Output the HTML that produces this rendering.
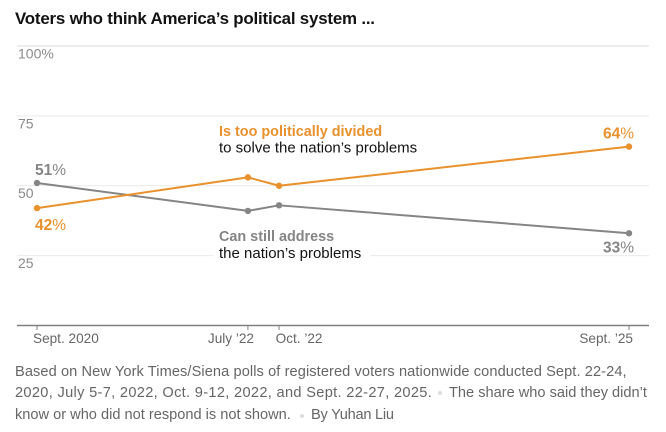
<!DOCTYPE html>
<html><head><meta charset="utf-8"><title>Voters who think America's political system</title>
<style>
html,body{margin:0;padding:0;background:#fff}
body{width:666px;height:432px;overflow:hidden;position:relative;font-family:"Liberation Sans",sans-serif}
#title{position:absolute;left:15px;top:9px;font-size:16.9px;font-weight:700;color:#121212;letter-spacing:-.2px;line-height:20px;white-space:nowrap}
#note span.seg{position:absolute;font-size:14.6px;line-height:21.7px;color:#666;white-space:nowrap}
#note span.dot{position:absolute;width:4px;height:4px;border-radius:50%;background:#ddd}
svg{position:absolute;left:0;top:0}
text{font-family:"Liberation Sans",sans-serif}
</style></head>
<body>
<div id="title">Voters who think America’s political system ...</div>
<svg id="chart" width="666" height="432" viewBox="0 0 666 432"></svg>
<div id="note">
<span class="seg" style="left:15px;top:362px;letter-spacing:.09px">Based on New York Times/Siena polls of registered voters nationwide conducted Sept. 22-24,</span>
<span class="seg" style="left:15px;top:382.5px;letter-spacing:.32px">2020, July 5-7, 2022, Oct. 9-12, 2022, and Sept. 22-27, 2025.</span>
<span class="dot" style="left:438px;top:391px"></span>
<span class="seg" style="left:449px;top:382.5px">The share who said they didn’t</span>
<span class="seg" style="left:15px;top:404.5px">know or who did not respond is not shown.</span>
<span class="dot" style="left:300px;top:413.5px"></span>
<span class="seg" style="left:311px;top:404.5px;letter-spacing:-.25px">By Yuhan Liu</span>
</div>
<script>
const pollDates = ['2020-09-23', '2022-07-06', '2022-10-10', '2025-09-24'];
const dateLabels = ['Sept. 2020', 'July ’22', 'Oct. ’22', 'Sept. ’25'];
const dividedValues = [42, 53, 50, 64];
const addressValues = [51, 41, 43, 33];
const yTicks = [100, 75, 50, 25];
const yTickLabels = ['100%', '75', '50', '25'];

const svg = document.getElementById('chart');
const NS = 'http://www.w3.org/2000/svg';
const ORANGE = '#e8912d', GRAY = '#858585';
const t0 = Date.parse(pollDates[0]), t1 = Date.parse(pollDates[pollDates.length - 1]);
function xScale(d) { return 37 + (Date.parse(d) - t0) / (t1 - t0) * 592; }
function yScale(v) { return 325.5 - v * 2.795; }
function make(tag, attrs, text) {
  const el = document.createElementNS(NS, tag);
  for (const k in attrs) el.setAttribute(k, attrs[k]);
  if (text !== undefined) el.textContent = text;
  svg.appendChild(el);
  return el;
}

yTicks.forEach(function (v, i) {
  const y = yScale(v);
  const grid = make('line', { x1: 17, x2: 649, y1: y, y2: y, stroke: '#e9e9e9', 'stroke-width': v === 100 ? 1.5 : 1 });
  
  
  const label = make('text', { x: 18, y: y + 12.4, 'font-size': 14, fill: '#8a8a8a' }, yTickLabels[i]);
  
  
});

const axis = make('line', { x1: 17, x2: 649, y1: yScale(0), y2: yScale(0), stroke: '#808080', 'stroke-width': 1.5 });



pollDates.forEach(function (d, i) {
  const x = xScale(d);
  const tick = make('line', { x1: x, x2: x, y1: yScale(0), y2: yScale(0) + 4.5, stroke: '#808080', 'stroke-width': 1 });
  
  
  const anchors = ['start', 'middle', 'middle', 'end'];
  const shifts = [-4, -17, 20, 4];
  const label = make('text', { x: x + shifts[i], y: 343, 'font-size': 13.6, fill: '#666', 'text-anchor': anchors[i] }, dateLabels[i]);
  
  
});

function drawSeries(values, color, name) {
  const pts = values.map(function (v, i) { return xScale(pollDates[i]) + ',' + yScale(v); }).join(' ');
  const line = make('polyline', { points: pts, fill: 'none', stroke: color, 'stroke-width': 2, 'stroke-linejoin': 'round' });
  
  
  values.forEach(function (v, i) {
    const dot = make('circle', { cx: xScale(pollDates[i]), cy: yScale(v), r: 3.2, fill: color });
    
    
  });
}
drawSeries(addressValues, GRAY, 'can-still-address');
drawSeries(dividedValues, ORANGE, 'too-divided');

function valueLabel(value, x, y, anchor, color, name) {
  const t = make('text', { x: x, y: y, 'font-size': 15.5, fill: color, 'text-anchor': anchor });
  
  
  const b = document.createElementNS(NS, 'tspan');
  b.setAttribute('font-weight', '700');
  b.textContent = value;
  t.appendChild(b);
  const p = document.createElementNS(NS, 'tspan');
  p.textContent = '%';
  t.appendChild(p);
}
const last = pollDates.length - 1;
valueLabel(addressValues[0], 35, yScale(addressValues[0]) - 8, 'start', GRAY, 'first-address-value');
valueLabel(dividedValues[0], 35, yScale(dividedValues[0]) + 22, 'start', ORANGE, 'first-divided-value');
valueLabel(dividedValues[last], 634, yScale(dividedValues[last]) - 8, 'end', ORANGE, 'last-divided-value');
valueLabel(addressValues[last], 634, yScale(addressValues[last]) + 19, 'end', GRAY, 'last-address-value');

const halo = make('rect', { x: 213, y: 228, width: 157, height: 36, fill: '#fff' });



function seriesLabel(text, y, color, bold, size, name) {
  const t = make('text', { x: 219, y: y, 'font-size': size, fill: color, 'font-weight': bold ? 700 : 400 }, text);
  
  
}
seriesLabel('Is too politically divided', 136, ORANGE, true, 14.4, 'divided-series-label');
seriesLabel('to solve the nation’s problems', 152.5, '#121212', false, 15, 'divided-series-sublabel');
seriesLabel('Can still address', 241, GRAY, true, 14.4, 'address-series-label');
seriesLabel('the nation’s problems', 258, '#121212', false, 15, 'address-series-sublabel');
</script>
</body></html>
